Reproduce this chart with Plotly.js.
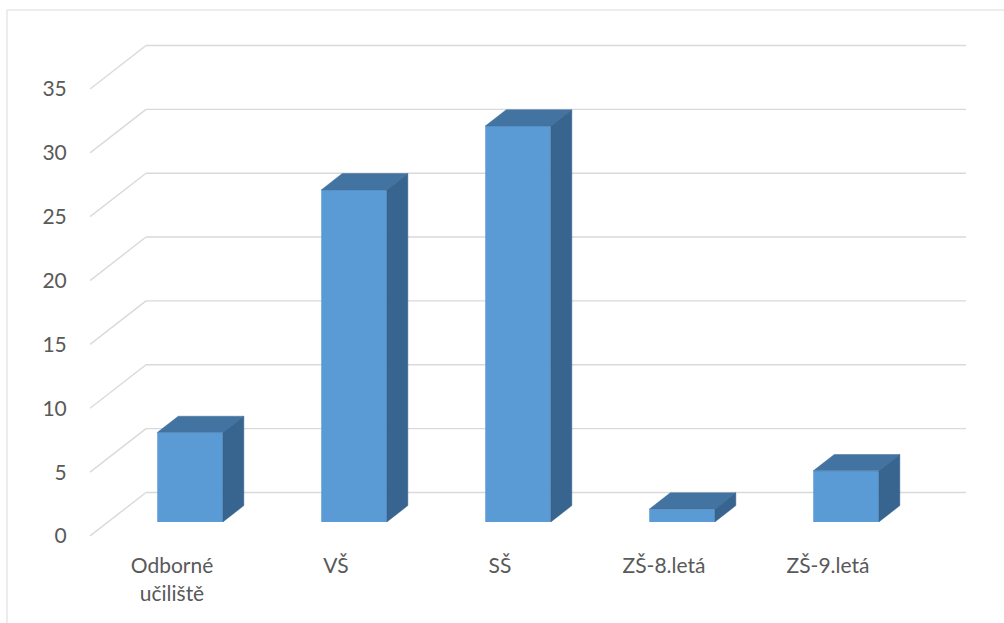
<!DOCTYPE html>
<html>
<head>
<meta charset="utf-8">
<script src="https://cdn.plot.ly/plotly-3.0.1.min.js"></script>
<style>
  html, body { margin: 0; padding: 0; background: #ffffff; }
  #chart { width: 1004px; height: 623px; }
</style>
</head>
<body>
<div id="chart"></div>
<script>
// ---- data ----
const categories = ['Odborné učiliště', 'VŠ', 'SŠ', 'ZŠ-8.letá', 'ZŠ-9.letá'];
const tickLabels = ['Odborné<br>učiliště', 'VŠ', 'SŠ', 'ZŠ-8.letá', 'ZŠ-9.letá'];
const values = [7, 26, 31, 1, 4];
const yTicks = [0, 5, 10, 15, 20, 25, 30, 35];

// ---- 3D projection constants (axis units) ----
const DEPTH_X = 0.3415, DEPTH_Y = 3.41;   // floor depth (front plane -> back wall)
const BAR_OFF_X = 0.11, BAR_OFF_Y = 1.10; // bar front plane offset
const BAR_W = 0.40;
const BAR_DX = 0.128, BAR_DY = 1.28;      // bar depth

const idx = categories.map((_, i) => i);
const xMin = -0.5, xWall = categories.length - 0.5 + DEPTH_X;
const plotW = 1004 - 90 - 30, plotH = 623 - 40 - 87;
const xRangeMax = xMin + plotW / 164;

const gridColor = '#d9d9d9';
const shapes = [];
yTicks.forEach(v => {
  shapes.push({type: 'line', xref: 'x', yref: 'y', layer: 'below',
    x0: xMin, y0: v, x1: xMin + DEPTH_X, y1: v + DEPTH_Y,
    line: {color: gridColor, width: 1.4}});
  shapes.push({type: 'line', xref: 'x', yref: 'y', layer: 'below',
    x0: xMin + DEPTH_X, y0: v + DEPTH_Y, x1: xWall, y1: v + DEPTH_Y,
    line: {color: gridColor, width: 1.4}});
});
// outer chart border (only left/top visible in the reference)
shapes.push({type: 'rect', xref: 'paper', yref: 'paper', layer: 'below',
  x0: (7 - 90) / plotW, x1: 1.3,
  y0: -0.5, y1: 1 + (40 - 10) / plotH,
  line: {color: '#d9d9d9', width: 1}, fillcolor: 'rgba(0,0,0,0)'});

const topX = [], topY = [], sideX = [], sideY = [];
idx.forEach(i => {
  const xl = i + BAR_OFF_X - BAR_W / 2, xr = xl + BAR_W;
  const top = BAR_OFF_Y + values[i];
  topX.push(xl, xr, xr + BAR_DX, xl + BAR_DX, xl, null);
  topY.push(top, top, top + BAR_DY, top + BAR_DY, top, null);
  sideX.push(xr, xr, xr + BAR_DX, xr + BAR_DX, xr, null);
  sideY.push(BAR_OFF_Y, top, top + BAR_DY, BAR_OFF_Y + BAR_DY, BAR_OFF_Y, null);
});

const traces = [
  {type: 'bar', x: idx.map(i => i + BAR_OFF_X), y: values, base: BAR_OFF_Y,
   width: BAR_W, marker: {color: '#5b9bd5', line: {width: 0}},
   hoverinfo: 'skip', showlegend: false},
  {type: 'scatter', mode: 'lines', x: topX, y: topY, fill: 'toself',
   fillcolor: '#4373a0', line: {color: '#4373a0', width: 0.5},
   hoverinfo: 'skip', showlegend: false},
  {type: 'scatter', mode: 'lines', x: sideX, y: sideY, fill: 'toself',
   fillcolor: '#386590', line: {color: '#386590', width: 0.5},
   hoverinfo: 'skip', showlegend: false}
];

const layout = {
  width: 1004, height: 623,
  margin: {l: 90, r: 30, t: 40, b: 87, pad: 0},
  paper_bgcolor: '#ffffff', plot_bgcolor: 'rgba(0,0,0,0)',
  showlegend: false,
  font: {family: 'Lato, "Open Sans", sans-serif', size: 21, color: '#595959'},
  xaxis: {range: [xMin, xRangeMax], tickvals: idx.map(i => i), ticktext: tickLabels,
    showgrid: false, zeroline: false, showline: false,
    ticks: 'outside', ticklen: 11, tickcolor: 'rgba(0,0,0,0)', fixedrange: true},
  yaxis: {range: [0, plotH / 12.77], tickvals: yTicks,
    showgrid: false, zeroline: false, showline: false,
    ticks: 'outside', ticklen: 18, tickcolor: 'rgba(0,0,0,0)', fixedrange: true},
  shapes: shapes
};

Plotly.newPlot('chart', traces, layout, {displayModeBar: false, staticPlot: true});
</script>
</body>
</html>
